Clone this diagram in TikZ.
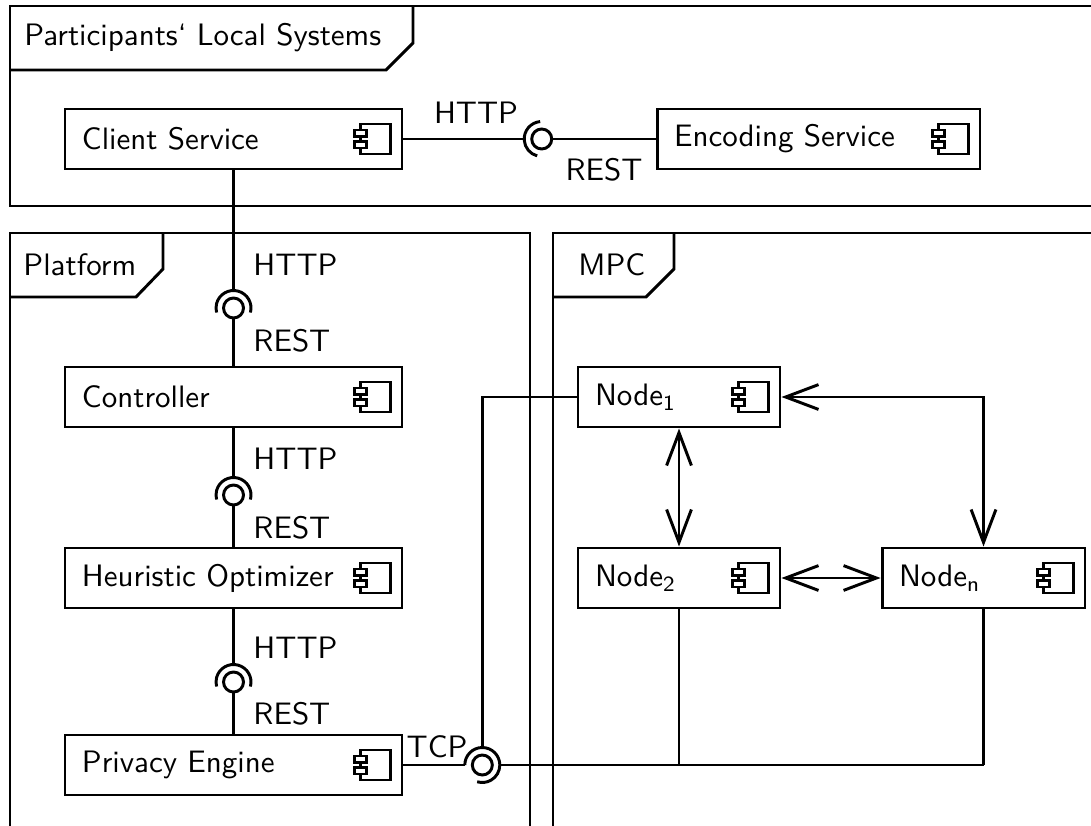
\documentclass[tikz,border=0pt]{standalone}
\usetikzlibrary{arrows.meta,calc}
\newcommand\compicon[1]{%
  \begin{scope}[shift={(#1.east)},line width=0.8pt]
    \draw (-43,-15) rectangle (-13,15);
    \draw[fill=white] (-49,-9) rectangle (-37,-2.5);
    \draw[fill=white] (-49,2.5) rectangle (-37,9);
  \end{scope}}
\begin{document}
\begin{tikzpicture}[x=0.3226pt,y=-0.3226pt,line width=0.95pt,
  font=\sffamily\fontsize{10}{12}\selectfont,
  comp/.style={draw,line width=0.95pt,fill=white,minimum height=19.36pt,
    inner xsep=5.48pt,inner ysep=0pt,text width=#1,align=left},
  ball/.style={draw,circle,minimum size=6.45pt,inner sep=0pt,outer sep=0pt},
  lbl/.style={inner sep=0pt},
  biarr/.style={{Straight Barb[length=10.6pt,width=8pt]}-{Straight Barb[length=10.6pt,width=8pt]}}
]
\useasboundingbox (0,0) rectangle (1091,825);
\clip (0,0) rectangle (1091,825);

% frames
\draw (1200,6) -- (10,6) -- (10,206) -- (1200,206);
\draw (10,70) -- (386,70) -- (413,43) -- (413,6);
\node[lbl,anchor=west] (tsys) at (23,38) {Participants‘ Local Systems};

\draw (530,900) -- (530,233) -- (10,233) -- (10,900);
\draw (10,297) -- (136,297) -- (163,269) -- (163,233);
\node[lbl,anchor=west] (tplat) at (22,265) {Platform};

\draw (1200,233) -- (553,233) -- (553,900);
\draw (553,297) -- (646,297) -- (674,269) -- (674,233);
\node[lbl,anchor=west] (tmpc) at (577,265) {MPC};

% components
\node[comp=97.75pt] (cs) at (233.5,139) {Client Service};
\node[comp=93.23pt] (es) at (818.5,139) {Encoding Service};
\node[comp=97.75pt] (ctrl) at (233.5,397) {Controller};
\node[comp=97.75pt] (ho) at (233.5,578) {Heuristic Optimizer};
\node[comp=97.75pt] (pe) at (233.5,765) {Privacy Engine};
\node[comp=54.2pt] (n1) at (679,397) {Node\textsubscript{1}};
\node[comp=54.2pt] (n2) at (679,578) {Node\textsubscript{2}};
\node[comp=54.5pt] (nn) at (983.5,578) {Node\textsubscript{n}};
\foreach \c in {cs,es,ctrl,ho,pe,n1,n2,nn} {\compicon{\c}}

% horizontal ball/socket Client -> Encoding
\node[ball] (bh) at (541.7,139) {};
\draw ([shift={(95:5.645pt)}]bh.center) arc[start angle=95,end angle=255,radius=5.645pt];
\coordinate (sh) at ([xshift=-5.645pt]bh.center);
\draw (cs) -- (sh);
\draw (bh) -- (es);
\node[lbl] (hh) at (476,113) {HTTP};
\node[lbl] (rh) at (604,170) {REST};

% vertical 1
\node[ball] (b1) at (cs |- 0,308) {};
\draw ([shift={(-15:5.645pt)}]b1.center) arc[start angle=-15,end angle=195,radius=5.645pt];
\coordinate (s1) at ([yshift=5.645pt]b1.center);
\draw (cs) -- (s1);
\draw (b1) -- (ctrl);
\node[lbl,anchor=west] (h1) at (252,265) {HTTP};
\node[lbl,anchor=west] (r1) at (252,341) {REST};

% vertical 2
\node[ball] (b2) at (ctrl |- 0,495) {};
\draw ([shift={(-15:5.645pt)}]b2.center) arc[start angle=-15,end angle=195,radius=5.645pt];
\coordinate (s2) at ([yshift=5.645pt]b2.center);
\draw (ctrl) -- (s2);
\draw (b2) -- (ho);
\node[lbl,anchor=west] (h2) at (252,459) {HTTP};
\node[lbl,anchor=west] (r2) at (252,528) {REST};

% vertical 3
\node[ball] (b3) at (ho |- 0,682) {};
\draw ([shift={(-15:5.645pt)}]b3.center) arc[start angle=-15,end angle=195,radius=5.645pt];
\coordinate (s3) at ([yshift=5.645pt]b3.center);
\draw (ho) -- (s3);
\draw (b3) -- (pe);
\node[lbl,anchor=west] (h3) at (252,648) {HTTP};
\node[lbl,anchor=west] (r3) at (252,714) {REST};

% TCP
\node[ball] (bt) at (482.3,765) {};
\draw ([shift={(180:5.645pt)}]bt.center) arc[start angle=180,end angle=-107,radius=5.645pt];
\coordinate (tl) at ([xshift=-5.645pt]bt.center);
\coordinate (tt) at ([yshift=5.645pt]bt.center);
\coordinate (tr) at ([xshift=5.645pt]bt.center);
\node[lbl] (tcp) at (437,747) {TCP};
\draw (pe) -- (tl);
\draw (n1) -| (tt);
\coordinate (j2) at (n2 |- tr);
\coordinate (jn) at (nn |- tr);
\draw (tr) -- (jn);
\draw (n2) -- (j2);
\draw (nn) -- (jn);

% MPC arrows
\draw[biarr] (n1) -- (n2);
\draw[biarr] (n2) -- (nn);
\draw[biarr] (n1) -| (nn);
\end{tikzpicture}
\end{document}
